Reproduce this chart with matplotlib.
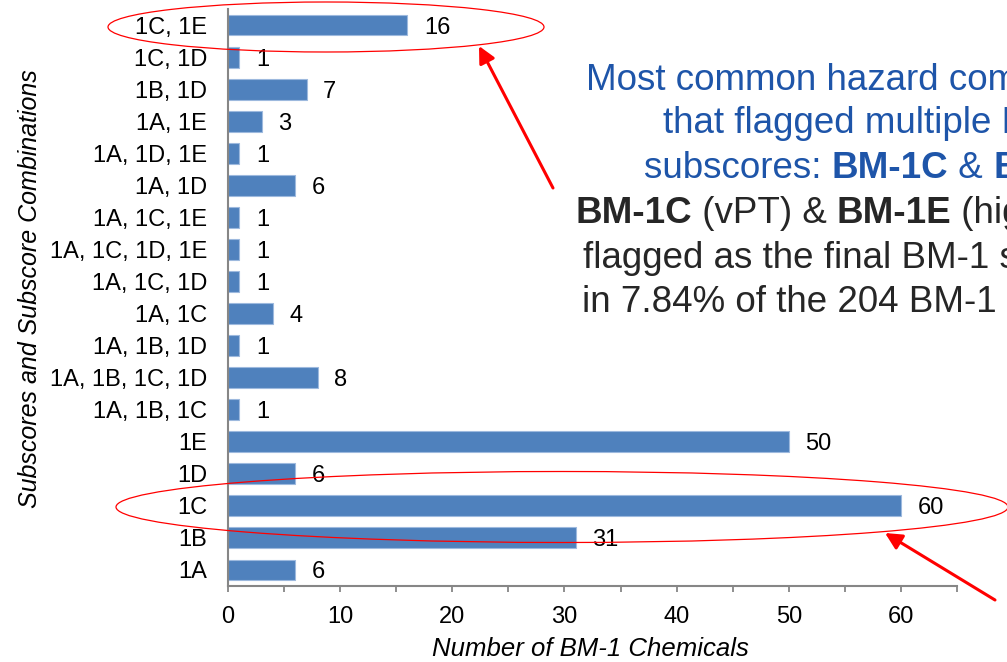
import matplotlib
matplotlib.use('Agg')
import matplotlib.pyplot as plt
from matplotlib.patches import Ellipse

plt.rcParams['font.family'] = ['Liberation Sans', 'DejaVu Sans']

# subscores / combinations, bottom to top
cats = ['1A', '1B', '1C', '1D', '1E', '1A, 1B, 1C', '1A, 1B, 1C, 1D', '1A, 1B, 1D',
        '1A, 1C', '1A, 1C, 1D', '1A, 1C, 1D, 1E', '1A, 1C, 1E', '1A, 1D', '1A, 1D, 1E',
        '1A, 1E', '1B, 1D', '1C, 1D', '1C, 1E']
vals = [6, 31, 60, 6, 50, 1, 8, 1, 4, 1, 1, 1, 6, 1, 3, 7, 1, 16]

xticks = [0, 10, 20, 30, 40, 50, 60]

W, H = 1007, 662
fig = plt.figure(figsize=(W / 100, H / 100), dpi=100)
ax = fig.add_axes([228 / W, (H - 586) / H, (957 - 228) / W, (586 - 9) / H])

ypos = range(len(cats))
ax.barh(ypos, vals, height=0.65, color='#4F81BD', edgecolor='#9DB9DE', linewidth=0.8)
for y, v in zip(ypos, vals):
    ax.annotate(str(v), (v, y), xytext=(12, 0), textcoords='offset points',
                ha='left', va='center_baseline', fontsize=17, color='black')

ax.set_xlim(0, 65)
ax.set_ylim(-0.5, len(cats) - 0.5)
ax.set_yticks(list(ypos))
ax.set_yticklabels(cats, fontsize=17)
ax.set_xticks(xticks)
ax.set_xticks([5, 15, 25, 35, 45, 55, 65], minor=True)
ax.tick_params(axis='x', which='both', direction='out', length=4.5, width=1.3,
               color='#868686', labelsize=17, pad=10)
ax.tick_params(axis='y', length=0, pad=15)
for s in ['top', 'right']:
    ax.spines[s].set_visible(False)
for s in ['left', 'bottom']:
    ax.spines[s].set_color('#868686')
    ax.spines[s].set_linewidth(1.5)

fig.text(590 / W, 1 - 649 / H, 'Number of BM-1 Chemicals', ha='center', va='center',
         fontsize=18.5, style='italic')
fig.text(30 / W, 1 - 289 / H, 'Subscores and Subscore Combinations', ha='center',
         va='center', rotation=90, fontsize=18, style='italic')

# red ellipses (pixel coords, y from top)
for cx, cy, w, h in [(326, 27, 436, 50), (562, 507, 892, 71)]:
    fig.add_artist(Ellipse((cx, H - cy), w, h, transform=None, fill=False,
                           edgecolor='#FF0000', linewidth=0.9, clip_on=False))

# red arrows
for (x0, y0), (x1, y1) in [((553, 188), (479, 46)), ((995, 600), (885, 533))]:
    ax.annotate('', xy=(x1, H - y1), xycoords='figure pixels',
                xytext=(x0, H - y0), textcoords='figure pixels',
                arrowprops=dict(arrowstyle='-|>,head_length=1.0,head_width=0.5',
                                color='#FF0000', lw=2.2, shrinkA=0, shrinkB=0),
                annotation_clip=False)

# annotation text block, runs off the right edge like the slide
blue = '#1E55A9'
dark = '#262626'
lines = [
    (586, 90, [('Most common hazard combination', blue, 'normal')]),
    (663, 133, [('that flagged multiple BM-1', blue, 'normal')]),
    (644, 178, [('subscores: ', blue, 'normal'), ('BM-1C', blue, 'bold'),
                (' & ', blue, 'normal'), ('BM-1E', blue, 'bold')]),
    (575, 223, [('BM-1C', dark, 'bold'), (' (vPT) & ', dark, 'normal'),
                ('BM-1E', dark, 'bold'), (' (high T) were', dark, 'normal')]),
    (583, 268, [('flagged as the final BM-1 score', dark, 'normal')]),
    (582, 312, [('in 7.84% of the 204 BM-1 chemicals', dark, 'normal')]),
]
fig.canvas.draw()
r = fig.canvas.get_renderer()
for x, y, parts in lines:
    for txt, col, wt in parts:
        t = fig.text(x / W, 1 - y / H, txt, ha='left', va='baseline', fontsize=26.5,
                     color=col, fontweight=wt)
        x = t.get_window_extent(r).x1

fig.savefig('out.png', dpi=100)
